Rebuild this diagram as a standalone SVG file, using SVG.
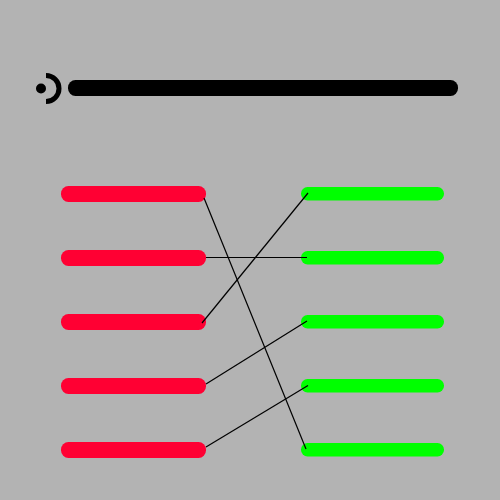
<svg xmlns="http://www.w3.org/2000/svg" width="500" height="500" viewBox="0 0 500 500">
<style>
.r{fill:#ff0033}
.g{fill:#00ff00}
.l{stroke:#000;stroke-width:1.200;fill:none}
</style>
<rect width="500" height="500" fill="#b3b3b3"/>
<g id="icon">
<circle cx="41" cy="88.500" r="5" fill="#000"/>
<path d="M46 75.500A12.800 12.800 0 0 1 46 101.500" fill="none" stroke="#000" stroke-width="5"/>
</g>
<g id="title"><rect x="68" y="80" width="390" height="16" rx="7.500" fill="#000"/></g>
<g id="right1"><rect class="g" x="301" y="187" width="143" height="13.500" rx="6.500"/></g>
<g id="right2"><rect class="g" x="301" y="251" width="143" height="13.500" rx="6.500"/></g>
<g id="right3"><rect class="g" x="301" y="315" width="143" height="13.500" rx="6.500"/></g>
<g id="right4"><rect class="g" x="301" y="379" width="143" height="13.500" rx="6.500"/></g>
<g id="right5"><rect class="g" x="301" y="443" width="143" height="13.500" rx="6.500"/></g>
<g id="left1"><rect class="r" x="61" y="186" width="145" height="16" rx="7.500"/></g>
<g id="left2"><rect class="r" x="61" y="250" width="145" height="16" rx="7.500"/></g>
<g id="left3"><rect class="r" x="61" y="314" width="145" height="16" rx="7.500"/></g>
<g id="left4"><rect class="r" x="61" y="378" width="145" height="16" rx="7.500"/></g>
<g id="left5"><rect class="r" x="61" y="442" width="145" height="16" rx="7.500"/></g>
<g id="connectors">
<line class="l" x1="204" y1="198" x2="306" y2="449"/>
<line class="l" x1="206" y1="257.500" x2="307" y2="257.500"/>
<line class="l" x1="202" y1="323" x2="308" y2="193"/>
<line class="l" x1="206" y1="384" x2="307" y2="321"/>
<line class="l" x1="206" y1="447" x2="308" y2="385.500"/>
</g>
</svg>
